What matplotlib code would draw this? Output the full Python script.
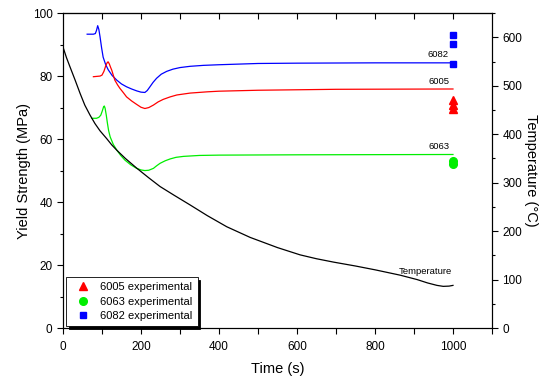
import matplotlib
matplotlib.use("Agg")
import matplotlib.pyplot as plt
from matplotlib.ticker import MultipleLocator

plt.rcParams['font.family'] = ['Liberation Sans', 'DejaVu Sans']

# simulated yield strength curves (MPa) vs time (s)
t_6082 = [62, 78, 83, 86, 89, 92, 95, 99, 103, 109, 116, 126, 138, 150, 163, 176, 189, 200, 210,
          216, 223, 231, 240, 252, 266, 282, 300, 326, 360, 400, 500, 600, 800, 1000]
ys_6082 = [93.3, 93.3, 93.5, 94.5, 96.0, 94.8, 92.5, 89.0, 86.0, 83.8, 82.0, 80.2, 78.7, 77.5, 76.6, 75.9, 75.3, 74.9, 74.8,
           75.4, 76.6, 78.0, 79.3, 80.6, 81.5, 82.2, 82.7, 83.1, 83.4, 83.6, 84.0, 84.1, 84.2, 84.2]

t_6005 = [78, 95, 100, 105, 110, 114, 116, 119, 122, 125, 133, 140, 146, 155, 163, 176, 189, 200, 210,
          220, 232, 244, 257, 275, 292, 326, 370, 400, 500, 700, 1000]
ys_6005 = [79.8, 80.0, 80.3, 81.5, 83.4, 84.4, 84.5, 83.8, 82.8, 81.9, 78.7, 77.2, 76.1, 74.7, 73.4, 72.1, 71.0, 70.1, 69.7,
           70.0, 70.8, 71.8, 72.6, 73.4, 74.0, 74.6, 75.0, 75.2, 75.5, 75.8, 75.9]

t_6063 = [74, 86, 92, 97, 101, 104, 106, 108, 111, 114, 117, 121, 129, 138, 148, 159, 174, 189, 200, 210,
          220, 232, 240, 249, 262, 275, 290, 309, 350, 400, 600, 1000]
ys_6063 = [66.6, 66.6, 66.9, 67.6, 69.0, 70.2, 70.5, 69.8, 67.6, 65.0, 62.7, 60.7, 58.3, 56.5, 54.8, 53.3, 51.8, 50.7, 50.2, 50.0,
           50.1, 50.7, 51.5, 52.3, 53.1, 53.7, 54.2, 54.5, 54.8, 54.9, 55.0, 55.1]

# temperature (°C) vs time (s)
t_temp = [0, 9, 18, 31, 44, 56, 69, 82, 95, 112, 125, 138, 160, 189, 220, 249, 285, 326, 370, 420,
          480, 550, 608, 650, 694, 750, 801, 865, 908, 935, 959, 975, 990, 1000]
temp = [580, 558, 539, 512, 484, 460, 440, 422, 407, 391, 378, 367, 350, 330, 310, 292, 274, 254, 232, 209,
        187, 166, 151, 143, 136, 128, 120, 109, 100, 93, 88, 86, 86.5, 88]

# experimental points at 1000 s
t_exp = 1000
exp_6005 = [72.4, 70.8, 69.5]
exp_6063 = [53.0, 52.2]
exp_6082 = [93.0, 90.2, 83.8]

fig = plt.figure(figsize=(5.5, 3.85), dpi=100)
ax = fig.add_axes([0.1145, 0.148, 0.78, 0.818])
ax2 = ax.twinx()

lw = 0.9
ax.plot(t_6082, ys_6082, color='#0000ff', lw=lw)
ax.plot(t_6005, ys_6005, color='#ff0000', lw=lw)
ax.plot(t_6063, ys_6063, color='#00ee00', lw=lw)
ax2.plot(t_temp, temp, color='black', lw=lw)

ax.plot([t_exp] * len(exp_6005), exp_6005, '^', color='#ff0000', ms=5.5, ls='none',
        label='6005 experimental')
ax.plot([t_exp] * len(exp_6063), exp_6063, 'o', color='#00ee00', ms=5.5, ls='none',
        label='6063 experimental')
ax.plot([t_exp] * len(exp_6082), exp_6082, 's', color='#0000ff', ms=4.8, ls='none',
        label='6082 experimental')

ax.text(990, 86.7, '6082', fontsize=6.8, ha='right', va='center')
ax.text(990, 78.2, '6005', fontsize=6.8, ha='right', va='center')
ax.text(990, 57.5, '6063', fontsize=6.8, ha='right', va='center')
ax2.text(930, 116, 'Temperature', fontsize=6.8, ha='center', va='center')

ax.set_xlim(0, 1100)
ax.set_ylim(0, 100)
ax2.set_ylim(0, 650)

ax.set_xticks(range(0, 1001, 200))
ax.xaxis.set_minor_locator(MultipleLocator(100))
ax.yaxis.set_major_locator(MultipleLocator(20))
ax.yaxis.set_minor_locator(MultipleLocator(10))
ax2.yaxis.set_major_locator(MultipleLocator(100))
ax2.yaxis.set_minor_locator(MultipleLocator(50))

ax.tick_params(axis='both', which='major', direction='out', length=4, width=0.8, labelsize=8.5)
ax.tick_params(axis='x', which='major', pad=5)
ax.tick_params(axis='y', which='minor', direction='out', length=2.5, width=0.8)
ax.tick_params(axis='x', which='minor', direction='out', length=4, width=0.8)
ax2.tick_params(axis='y', which='major', direction='out', length=4, width=0.8, labelsize=8.5)
ax2.tick_params(axis='y', which='minor', direction='out', length=2.5, width=0.8)

top = ax.secondary_xaxis('top')
top.set_xticks(range(100, 1001, 100))
top.tick_params(direction='in', length=4, width=0.8, labeltop=False)

for a in (ax, ax2):
    for s in a.spines.values():
        s.set_linewidth(0.8)

ax.set_xlabel('Time (s)', fontsize=10.5, labelpad=7)
ax.set_ylabel('Yield Strength (MPa)', fontsize=10.5, labelpad=1)
ax2.set_ylabel('Temperature (°C)', fontsize=10.5, rotation=270, labelpad=11)

leg = ax.legend(loc='lower left', bbox_to_anchor=(0.008, 0.006), borderaxespad=0,
                fontsize=8, frameon=True, fancybox=False, edgecolor='black',
                handletextpad=0.6, labelspacing=0.4, borderpad=0.45,
                shadow={'color': 'black', 'alpha': 1})
leg.get_frame().set_linewidth(0.6)

fig.savefig('out.png', dpi=100)
